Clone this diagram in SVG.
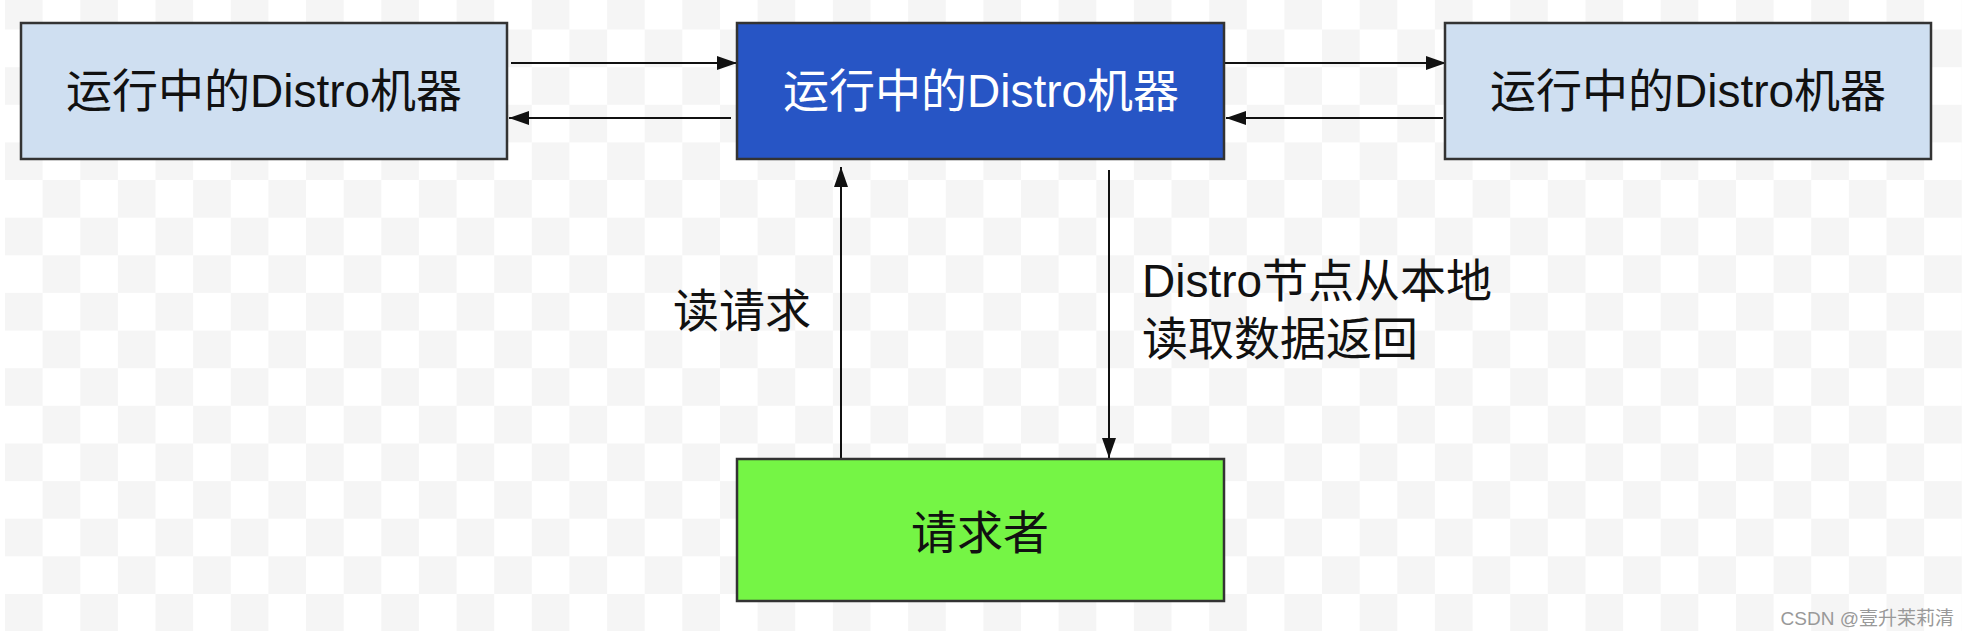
<svg xmlns="http://www.w3.org/2000/svg" width="1968" height="638" viewBox="0 0 1968 638">
  <style>
    .t { font-family: "Liberation Sans", "Noto Sans CJK SC", sans-serif; font-size: 46px; }
    .box { stroke: #333333; stroke-width: 2.5; }
    .edge { stroke: #111111; stroke-width: 2; fill: none; marker-end: url(#arrow); }
  </style>
  <defs>
    <pattern id="checker" x="5" y="-8.1" width="75.26" height="75.26" patternUnits="userSpaceOnUse">
      <rect x="0" y="0" width="75.26" height="75.26" fill="#ffffff"/>
      <rect x="0" y="0" width="37.63" height="37.63" fill="#f5f5f5"/>
      <rect x="37.63" y="37.63" width="37.63" height="37.63" fill="#f5f5f5"/>
    </pattern>
    <marker id="arrow" markerUnits="userSpaceOnUse" markerWidth="20" markerHeight="14" refX="20" refY="7" orient="auto">
      <path d="M0,0 L20,7 L0,14 z" fill="#111111"/>
    </marker>
  </defs>

  <rect x="0" y="0" width="1968" height="638" fill="#ffffff"/>
  <rect x="5" y="0" width="1957" height="631" fill="url(#checker)"/>

  <g id="connectors">
    <line class="edge" x1="511" y1="63" x2="737" y2="63"/>
    <line class="edge" x1="731" y1="118" x2="509" y2="118"/>
    <line class="edge" x1="1224" y1="63" x2="1446" y2="63"/>
    <line class="edge" x1="1443" y1="118" x2="1226" y2="118"/>
    <line class="edge" x1="841" y1="459" x2="841" y2="167"/>
    <line class="edge" x1="1109" y1="170" x2="1109" y2="458"/>
  </g>

  <g id="node-left">
    <rect class="box" x="21" y="23" width="486" height="136" fill="#cfdff1"/>
    <text class="t" x="264" y="91" text-anchor="middle" dominant-baseline="central" fill="#111111">运行中的Distro机器</text>
  </g>

  <g id="node-center">
    <rect class="box" x="737" y="23" width="487" height="136" fill="#2755c5"/>
    <text class="t" x="981" y="91" text-anchor="middle" dominant-baseline="central" fill="#ffffff">运行中的Distro机器</text>
  </g>

  <g id="node-right">
    <rect class="box" x="1445" y="23" width="486" height="136" fill="#cfdff1"/>
    <text class="t" x="1688" y="91" text-anchor="middle" dominant-baseline="central" fill="#111111">运行中的Distro机器</text>
  </g>

  <g id="node-requester">
    <rect class="box" x="737" y="459" width="487" height="142" fill="#75f545"/>
    <text class="t" x="980" y="533" text-anchor="middle" dominant-baseline="central" fill="#111111">请求者</text>
  </g>

  <g id="labels">
    <text class="t" x="742" y="311" text-anchor="middle" dominant-baseline="central" fill="#111111">读请求</text>
    <text class="t" x="1142" y="281" dominant-baseline="central" fill="#111111">Distro节点从本地</text>
    <text class="t" x="1142" y="339" dominant-baseline="central" fill="#111111">读取数据返回</text>
  </g>

  <text x="1954" y="625" text-anchor="end" style="font-family: 'Liberation Sans', 'Noto Sans CJK SC', sans-serif; font-size: 19px;" fill="#999999">CSDN @壹升茉莉清</text>
</svg>
